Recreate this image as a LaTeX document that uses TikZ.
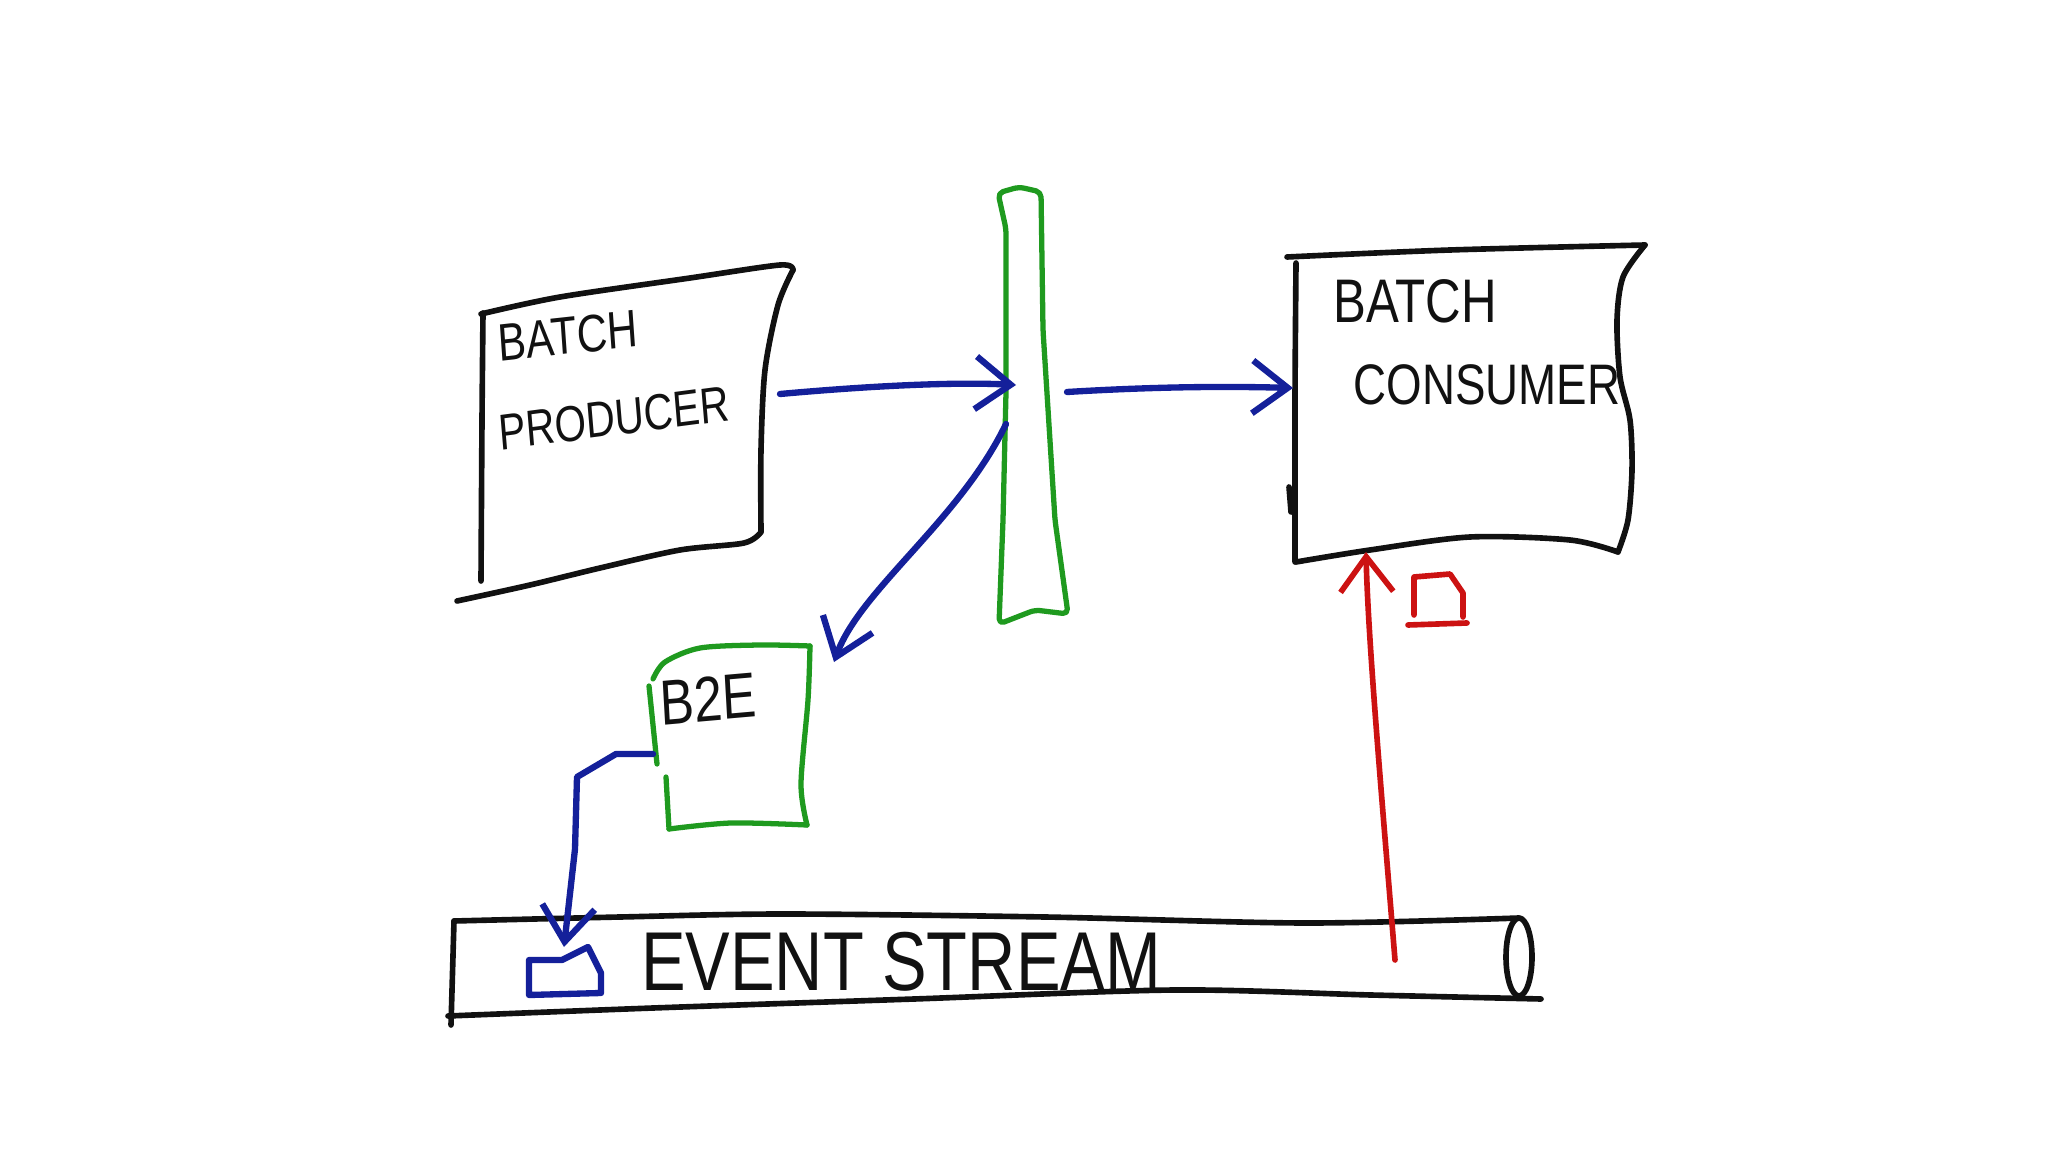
\documentclass[tikz,border=0pt]{standalone}
\usepackage{fontspec}
\setmainfont{Liberation Sans}
\usetikzlibrary{arrows.meta,positioning}
\definecolor{inkblack}{HTML}{111111}
\definecolor{inkgreen}{HTML}{1F9A1F}
\definecolor{inkblue}{HTML}{14209A}
\definecolor{inkred}{HTML}{CC1212}
\tikzset{
  pen/.style={draw=inkblack, line width=1.6pt},
  greenpen/.style={draw=inkgreen, line width=1.5pt},
  bluepen/.style={draw=inkblue, line width=1.8pt},
  redpen/.style={draw=inkred, line width=1.6pt},
  flow/.style={-{Straight Barb[length=10pt,width=15pt]}},
  hand/.style={inner sep=0pt, text=inkblack, yscale=1.25}
}

\begin{document}
\begin{tikzpicture}[x=0.01cm, y=-0.01cm, line cap=round, line join=round]
\useasboundingbox (0,0) rectangle (2048,1152);

% batch producer
\draw[pen] plot[smooth] coordinates {(481,314) (560,297) (690,278) (780,265) (793,270)};
\draw[pen] plot[smooth] coordinates {(793,270) (778,305) (765,370) (761,450) (761,532)};
\draw[pen] plot[smooth] coordinates {(761,532) (744,543) (680,550) (600,568) (530,585) (457,601)};
\draw[pen] plot[smooth] coordinates {(483,313) (482,420) (481,581)};
\node[hand, font=\fontsize{12}{12}\selectfont, rotate=5] (prodbatch) at (568,336) {BATCH};
\node[hand, font=\fontsize{11.5}{12}\selectfont, rotate=6] (prodname) at (614,418) {PRODUCER};

% green bar
\draw[greenpen, rounded corners=1.5pt] (999,624) -- (1003,520) -- (1006,392) -- (1006,229)
  -- (998,193) -- (1019,187) -- (1041,192) -- (1043,330) -- (1055,520) -- (1068,614)
  -- (1035,610) -- cycle;

% batch consumer
\draw[pen] plot[smooth] coordinates {(1287,257) (1450,250) (1645,245)};
\draw[pen] plot[smooth] coordinates {(1645,245) (1623,277) (1617,320) (1620,377) (1630,420) (1632,470) (1628,520) (1618,552)};
\draw[pen] plot[smooth] coordinates {(1296,562) (1370,550) (1470,537) (1570,540) (1618,552)};
\draw[pen] plot[smooth] coordinates {(1296,263) (1295,400) (1295,562)};
\draw[pen] (1289,487) -- (1291,512);
\node[hand, font=\fontsize{14}{14}\selectfont] (consbatch) at (1415,301) {BATCH};
\node[hand, font=\fontsize{13}{13}\selectfont] (consname) at (1487,385) {CONSUMER};

% red document
\draw[redpen] (1414,615) -- (1414,577) -- (1450,574) -- (1463,593) -- (1463,617);
\draw[redpen] (1408,625) -- (1467,623);

% b2e
\draw[greenpen] plot[smooth] coordinates {(653,679) (665,662) (700,648) (760,645) (810,646)};
\draw[greenpen] plot[smooth] coordinates {(810,646) (808,700) (801,784) (807,825)};
\draw[greenpen] plot[smooth] coordinates {(669,829) (731,823) (807,825)};
\draw[greenpen] (649,686) -- (657,764);
\draw[greenpen] (666,777) -- (669,829);
\node[hand, font=\fontsize{14.5}{15}\selectfont, rotate=4] (b2e) at (708,699) {B2E};

% blue document
\draw[bluepen] (529,960) -- (529,995) -- (601,993) -- (601,973) -- (588,947) -- (562,960) -- cycle;

% event stream
\draw[pen] plot[smooth] coordinates {(454,921) (620,917) (784,914) (1045,917) (1306,923) (1519,918)};
\draw[pen] plot[smooth] coordinates {(448,1016) (653,1008) (914,999) (1175,990) (1371,995) (1541,999)};
\draw[pen] (454,921) -- (451,1025);
\draw[pen] (1519,957) ellipse [x radius=13, y radius=39];
\node[hand, font=\fontsize{19}{19}\selectfont] (stream) at (901,962) {EVENT STREAM};

% connector ends
\coordinate (prodE) at (780,394);
\coordinate (barW) at (1016,385);
\coordinate (barE) at (1067,392);
\coordinate (consW) at (1293,388);
\coordinate (barSW) at (1006,424);
\coordinate (b2eNE) at (834,662);
\coordinate (b2eW) at (653,754);
\coordinate (docN) at (564,947);
\coordinate (streamR) at (1395,960);
\coordinate (consS) at (1366,552);

% flows
\draw[bluepen, flow] (prodE) .. controls (880,385) and (960,382) .. (barW);
\draw[bluepen, flow] (barE) .. controls (1150,387) and (1220,386) .. (consW);
\draw[bluepen, flow] (barSW) .. controls (960,520) and (860,590) .. (b2eNE);
\draw[bluepen, flow] (b2eW) -- (616,754) -- (577,777) -- (575,849) -- (docN);
\draw[redpen, flow] (streamR) .. controls (1382,800) and (1368,640) .. (consS);
\end{tikzpicture}
\end{document}
